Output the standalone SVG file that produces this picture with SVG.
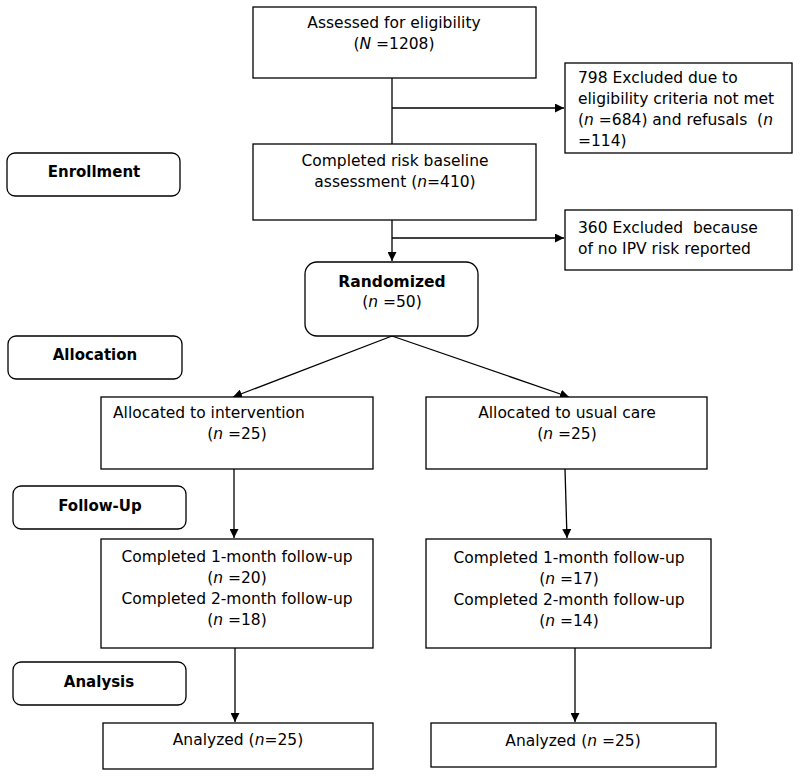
<svg xmlns="http://www.w3.org/2000/svg" width="800" height="777" viewBox="0 0 800 777">
<defs>
<marker id="ah" viewBox="0 0 10 10" refX="10" refY="5" markerWidth="9" markerHeight="9" markerUnits="userSpaceOnUse" orient="auto">
<path d="M0,0 L10,5 L0,10 z" fill="#000"/>
</marker>
<style>
.b{fill:#fff;stroke:#000;stroke-width:1.3}
.t{font-family:"DejaVu Sans",sans-serif;font-size:15.5px;fill:#000;white-space:pre}
.c{text-anchor:middle}
.h{font-family:"DejaVu Sans",sans-serif;font-size:15px;font-weight:bold;fill:#000;text-anchor:middle}
.i{font-style:italic}
.l{fill:none;stroke:#000;stroke-width:1.3}
</style>
</defs>
<rect width="800" height="777" fill="#fff"/>
<g id="connectors">
<line class="l" x1="392" y1="78" x2="392" y2="144"/>
<line class="l" x1="392" y1="108" x2="564" y2="108" marker-end="url(#ah)"/>
<line class="l" x1="392" y1="220" x2="392" y2="261" marker-end="url(#ah)"/>
<line class="l" x1="392" y1="238" x2="564" y2="238" marker-end="url(#ah)"/>
<line class="l" x1="392" y1="336" x2="233" y2="397" marker-end="url(#ah)"/>
<line class="l" x1="392" y1="336" x2="569" y2="397" marker-end="url(#ah)"/>
<line class="l" x1="234" y1="469" x2="234" y2="538" marker-end="url(#ah)"/>
<line class="l" x1="565" y1="469" x2="567" y2="538" marker-end="url(#ah)"/>
<line class="l" x1="235" y1="648" x2="235" y2="722" marker-end="url(#ah)"/>
<line class="l" x1="575" y1="648" x2="575" y2="722" marker-end="url(#ah)"/>
</g>
<g id="assessed">
<rect class="b" x="253" y="7" width="283" height="71"/>
<text class="t c" x="394" y="28">Assessed for eligibility</text>
<text class="t c" x="394" y="49">(<tspan class="i">N</tspan> =1208)</text>
</g>
<g id="excluded1">
<rect class="b" x="565" y="63" width="227" height="90"/>
<text class="t" x="578" y="83">798 Excluded due to</text>
<text class="t" x="578" y="104">eligibility criteria not met</text>
<text class="t" x="578" y="125">(<tspan class="i">n</tspan> =684) and refusals  (<tspan class="i">n</tspan></text>
<text class="t" x="578" y="146">=114)</text>
</g>
<g id="baseline">
<rect class="b" x="253" y="144" width="283" height="76"/>
<text class="t c" x="395" y="166">Completed risk baseline</text>
<text class="t c" x="395" y="187">assessment (<tspan class="i">n</tspan>=410)</text>
</g>
<g id="excluded2">
<rect class="b" x="565" y="210" width="227" height="60"/>
<text class="t" x="578" y="233">360 Excluded  because</text>
<text class="t" x="578" y="254">of no IPV risk reported</text>
</g>
<g id="randomized">
<rect class="b" x="305" y="262" width="173" height="74" rx="12"/>
<text class="h" x="392" y="287" style="font-size:15.5px">Randomized</text>
<text class="t c" x="392" y="307">(<tspan class="i">n</tspan> =50)</text>
</g>
<g id="enrollment">
<rect class="b" x="7" y="153" width="173" height="43" rx="8"/>
<text class="h" x="94" y="177">Enrollment</text>
</g>
<g id="allocation">
<rect class="b" x="8" y="336" width="174" height="43" rx="8"/>
<text class="h" x="95" y="360">Allocation</text>
</g>
<g id="followup-label">
<rect class="b" x="13" y="486" width="173" height="43" rx="8"/>
<text class="h" x="100" y="511">Follow-Up</text>
</g>
<g id="analysis-label">
<rect class="b" x="13" y="662" width="173" height="43" rx="8"/>
<text class="h" x="99" y="687">Analysis</text>
</g>
<g id="alloc-intervention">
<rect class="b" x="101" y="397" width="272" height="72"/>
<text class="t" x="113" y="418">Allocated to intervention</text>
<text class="t c" x="237" y="439">(<tspan class="i">n</tspan> =25)</text>
</g>
<g id="alloc-usual">
<rect class="b" x="426" y="397" width="281" height="72"/>
<text class="t c" x="567" y="418">Allocated to usual care</text>
<text class="t c" x="567" y="439">(<tspan class="i">n</tspan> =25)</text>
</g>
<g id="fu-intervention">
<rect class="b" x="101" y="539" width="272" height="109"/>
<text class="t c" x="237" y="562">Completed 1-month follow-up</text>
<text class="t c" x="237" y="583">(<tspan class="i">n</tspan> =20)</text>
<text class="t c" x="237" y="604">Completed 2-month follow-up</text>
<text class="t c" x="237" y="625">(<tspan class="i">n</tspan> =18)</text>
</g>
<g id="fu-usual">
<rect class="b" x="426" y="539" width="285" height="109"/>
<text class="t c" x="569" y="563">Completed 1-month follow-up</text>
<text class="t c" x="569" y="584">(<tspan class="i">n</tspan> =17)</text>
<text class="t c" x="569" y="605">Completed 2-month follow-up</text>
<text class="t c" x="569" y="626">(<tspan class="i">n</tspan> =14)</text>
</g>
<g id="analyzed-intervention">
<rect class="b" x="103" y="723" width="270" height="46"/>
<text class="t c" x="238" y="745">Analyzed (<tspan class="i">n</tspan>=25)</text>
</g>
<g id="analyzed-usual">
<rect class="b" x="431" y="723" width="285" height="44"/>
<text class="t c" x="573" y="746">Analyzed (<tspan class="i">n</tspan> =25)</text>
</g>
</svg>
